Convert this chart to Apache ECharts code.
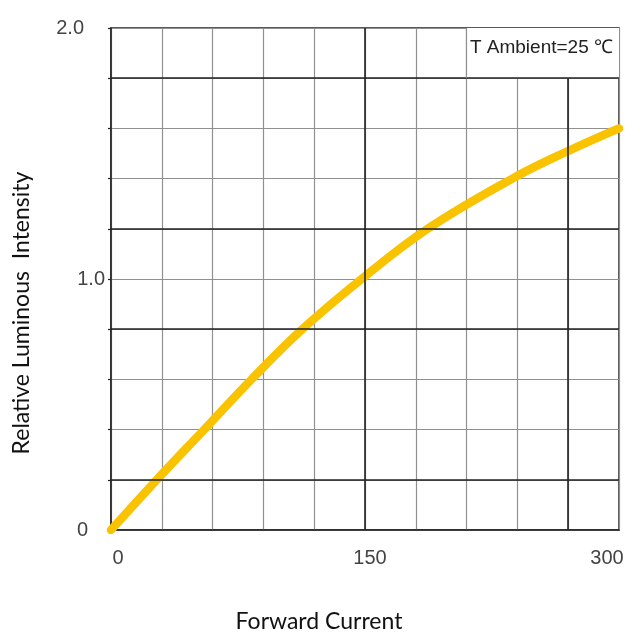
<!DOCTYPE html>
<html>
<head>
<meta charset="utf-8">
<script src="https://cdn.jsdelivr.net/npm/echarts@6/dist/echarts.min.js"></script>
<style>
html,body{margin:0;padding:0;background:#fff;}
#chart{width:640px;height:638px;}
</style>
</head>
<body>
<div id="chart"></div>
<script>
// Data
var current = [0, 27, 55, 83, 113, 148, 187, 237, 270, 300];
var intensity = [0, 0.2, 0.4, 0.6, 0.8, 1.0, 1.2, 1.4, 1.51, 1.60];
var xTickValues = [0, 150, 300];
var xTickLabels = ['0', '150', '300'];
var yTickValues = [0, 1, 2];
var yTickLabels = ['0', '1.0', '2.0'];
var darkYLines = [0.2, 0.8, 1.2, 1.8];
var darkXLines = [150];
var noteText = 'T Ambient=25 \u2103';

var chart = echarts.init(document.getElementById('chart'));
var DARK = '#222';
var GRAY = '#909090';

function near(a, b) { return Math.abs(a - b) < 1e-6; }

var seriesData = current.map(function (c, i) { return [c, intensity[i]]; });

var markLines = [];
darkYLines.forEach(function (v) { markLines.push({ yAxis: v }); });
darkXLines.forEach(function (v) { markLines.push({ xAxis: v }); });
// 270 dark vertical stops at the note box
markLines.push([{ coord: [270, 0] }, { coord: [270, 1.8] }]);

var option = {
  animation: false,
  backgroundColor: '#fff',
  grid: {
    left: 111, right: 21, top: 28, bottom: 108,
    show: true, borderColor: DARK, borderWidth: 1.5, backgroundColor: 'transparent'
  },
  xAxis: {
    type: 'value', min: 0, max: 300, interval: 30,
    name: 'Forward Current', nameLocation: 'middle', nameGap: 80,
    nameTextStyle: { fontFamily: 'Lato', fontSize: 23, color: '#111', padding: [0, 92, 0, 0] },
    axisLine: { show: true, lineStyle: { color: DARK, width: 1.5 } },
    axisTick: { show: false },
    splitLine: { show: true, lineStyle: { color: GRAY, width: 1.2 } },
    axisLabel: {
      margin: 18,
      fontFamily: 'Liberation Sans', fontSize: 20, color: '#444',
      formatter: function (v) {
        for (var i = 0; i < xTickValues.length; i++) {
          if (near(v, xTickValues[i])) return '{t' + i + '|' + xTickLabels[i] + '}';
        }
        return '';
      },
      rich: {
        t0: { fontFamily: 'Liberation Sans', fontSize: 20, color: '#444', padding: [0, 0, 0, 14] },
        t1: { fontFamily: 'Liberation Sans', fontSize: 20, color: '#444', padding: [0, 0, 0, 10] },
        t2: { fontFamily: 'Liberation Sans', fontSize: 20, color: '#444', padding: [0, 24, 0, 0] }
      }
    }
  },
  yAxis: {
    type: 'value', min: 0, max: 2, interval: 0.2,
    name: 'Relative Luminous  Intensity', nameLocation: 'middle', nameGap: 78, nameRotate: 90,
    nameTextStyle: { fontFamily: 'Lato', fontSize: 23, color: '#111', padding: [0, 68, 0, 0] },
    axisLine: { show: true, lineStyle: { color: DARK, width: 1.5 } },
    axisTick: { show: true, length: 3, lineStyle: { color: DARK, width: 1.2 } },
    splitLine: { show: true, lineStyle: { color: GRAY, width: 1.2 } },
    axisLabel: {
      margin: 6,
      fontFamily: 'Liberation Sans', fontSize: 20, color: '#444',
      formatter: function (v) {
        for (var i = 0; i < yTickValues.length; i++) {
          if (near(v, yTickValues[i])) return '{t' + i + '|' + yTickLabels[i] + '}';
        }
        return '';
      },
      rich: {
        t0: { fontFamily: 'Liberation Sans', fontSize: 20, color: '#444', padding: [0, 17, 0, 0] },
        t1: { fontFamily: 'Liberation Sans', fontSize: 20, color: '#444', padding: [0, 0, 0, 0] },
        t2: { fontFamily: 'Liberation Sans', fontSize: 20, color: '#444', padding: [0, 21, 0, 0] }
      }
    }
  },
  series: [
    {
      type: 'line', data: [], z: 1, silent: true,
      markArea: {
        silent: true,
        itemStyle: { color: '#fff', borderWidth: 0 },
        label: {
          show: true, position: 'insideRight', distance: 6, offset: [0, -5],
          fontFamily: 'Liberation Sans', fontSize: 19, color: '#222'
        },
        data: [[{ coord: [210, 1.8], name: noteText }, { coord: [300, 2.0] }]]
      }
    },
    {
      type: 'line', data: [], z: 2, silent: true,
      markLine: {
        silent: true, symbol: 'none', label: { show: false },
        lineStyle: { type: 'solid', color: DARK, width: 1.6 },
        data: markLines.concat([
          [{ coord: [210, 1.8], lineStyle: { color: GRAY, width: 1.2 } }, { coord: [210, 2.0] }]
        ])
      }
    },
    {
      type: 'line', data: seriesData, z: 3, smooth: 0.4, symbol: 'none',
      lineStyle: { color: '#F9C300', width: 8.5, cap: 'round' }
    }
  ]
};
chart.setOption(option);
</script>
</body>
</html>
